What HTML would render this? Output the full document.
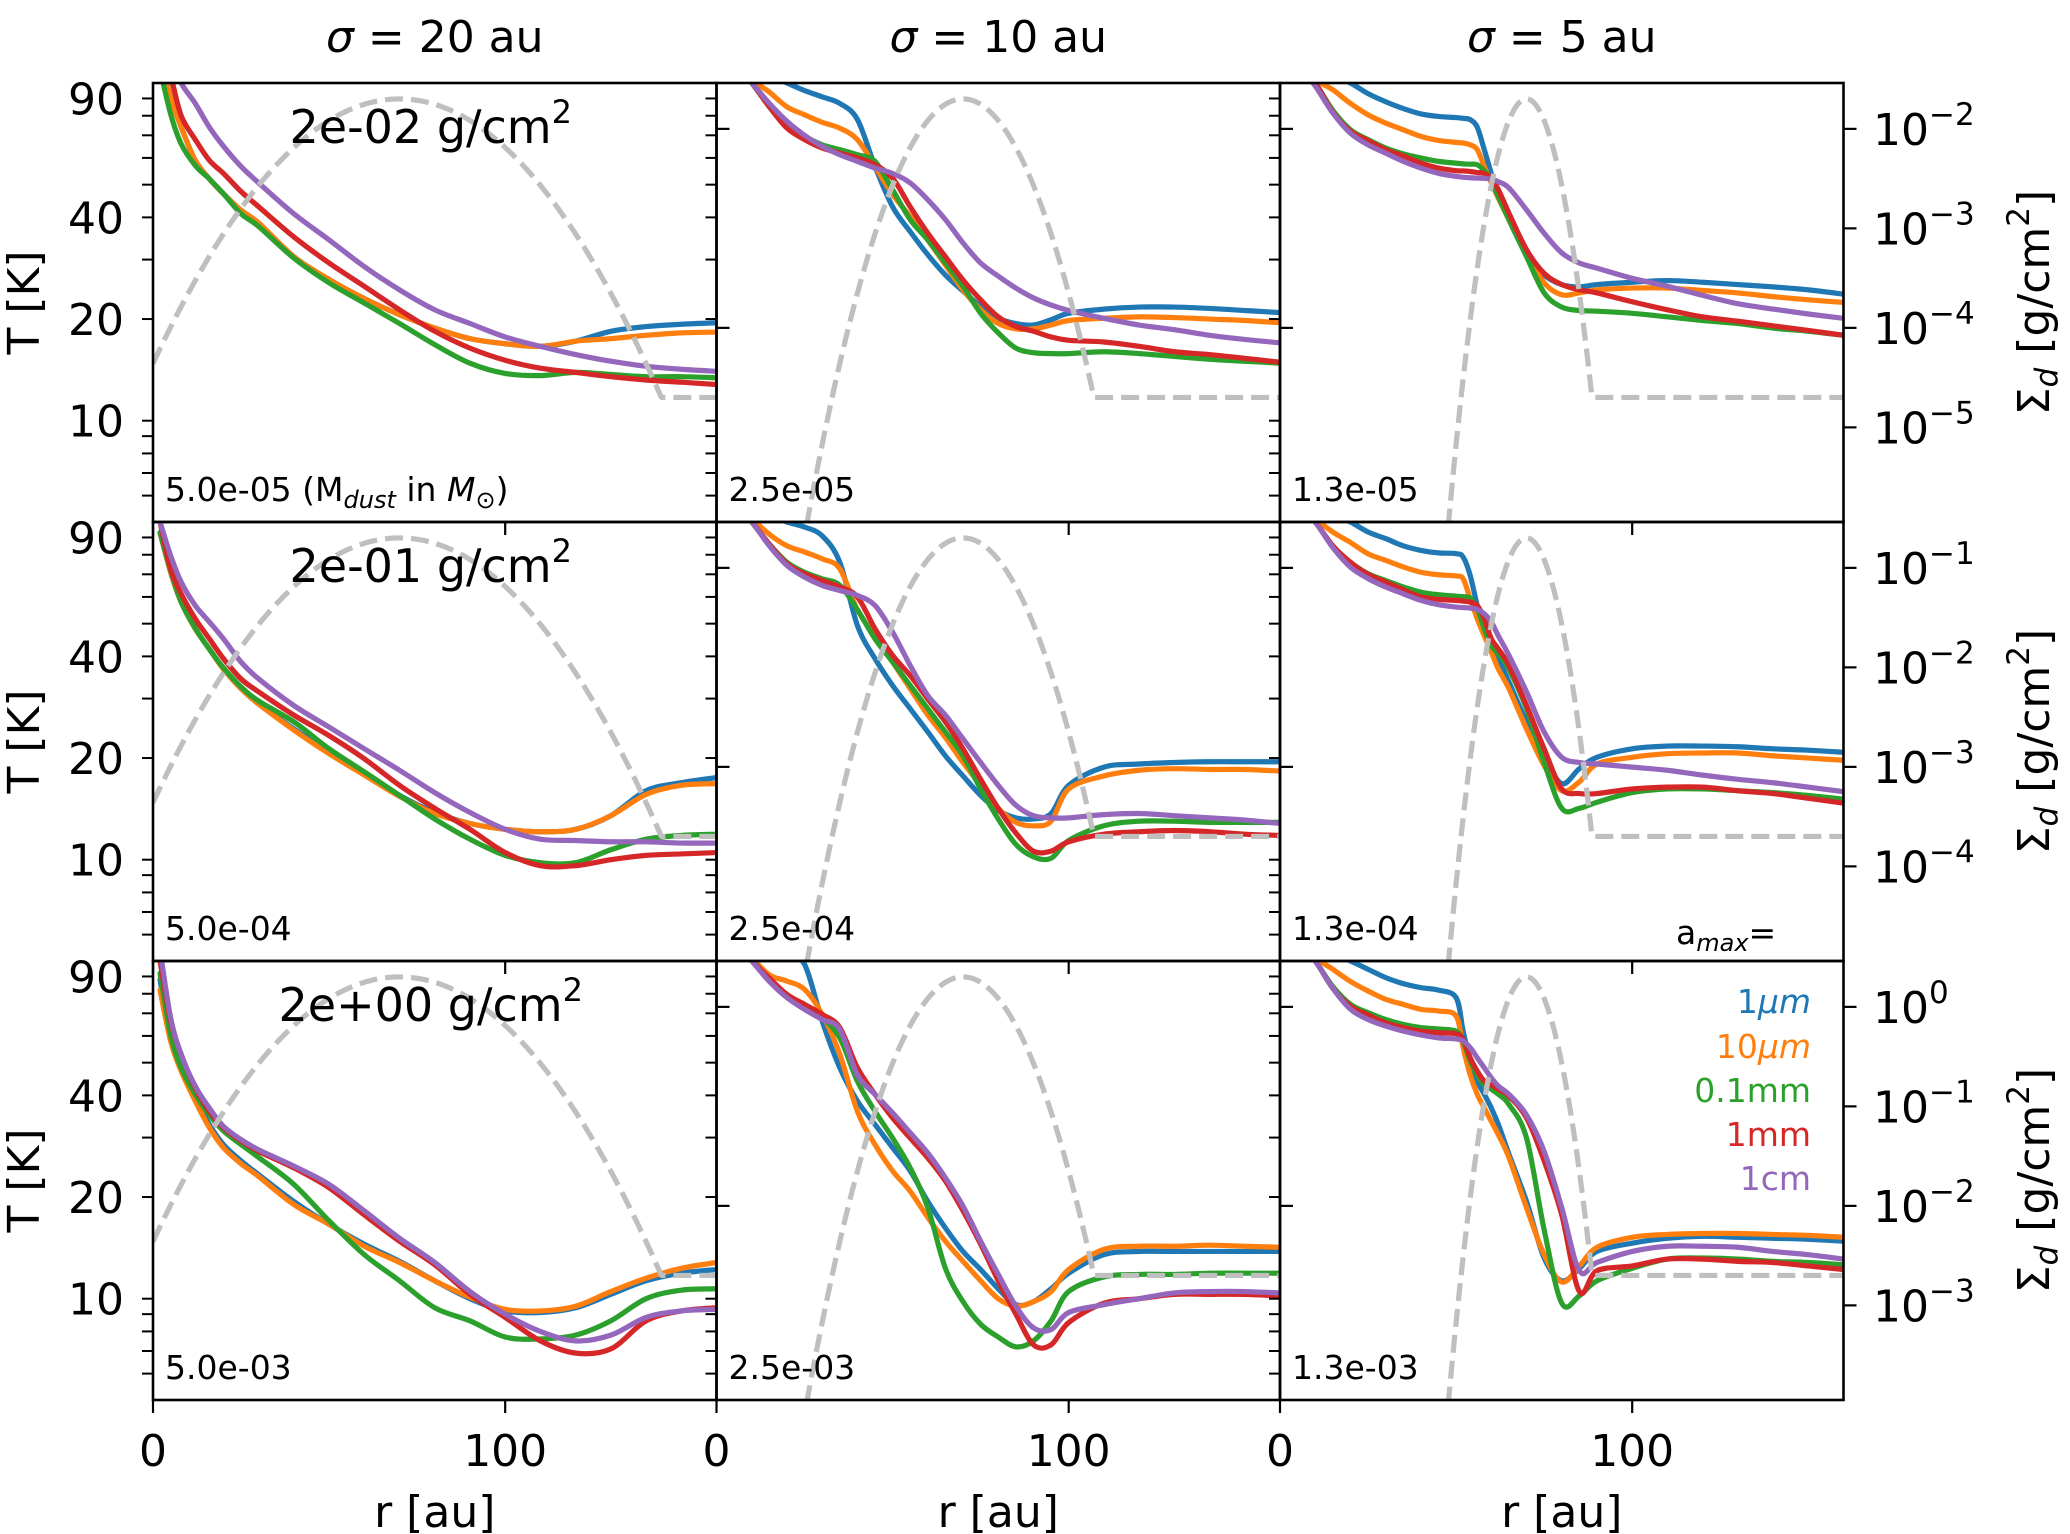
<!DOCTYPE html>
<html><head><meta charset="utf-8"><title>T profiles</title>
<style>
html,body{margin:0;padding:0;background:#fff;}
svg{display:block;font-family:"DejaVu Sans","Liberation Sans",sans-serif;}
</style></head>
<body>
<svg id="fig" width="2070" height="1534" viewBox="0 0 2070 1534" xmlns="http://www.w3.org/2000/svg"></svg>
<script>
// ---- data ----
const colSigmaLabels = ["20","10","5"];
const rowPeakLabels = ["2e-02","2e-01","2e+00"];
const massLabels = [["5.0e-05","2.5e-05","1.3e-05"],["5.0e-04","2.5e-04","1.3e-04"],["5.0e-03","2.5e-03","1.3e-03"]];
const gaussPeaks = [0.02,0.2,2];
const gaussSigmas = [20,10,5];
const gaussCenter = 70;
const gaussFloorFrac = 1e-3;
const rGridCol1 = [2,5,8,12,16,20,25,30,40,50,60,70,80,90,100,110,120,130,140,150,160];
const rGridCol2 = [2,6,10,15,20,25,30,35,40,45,50,55,60,65,70,75,80,85,90,95,100,110,120,130,140,150,160];
const rGridCol3 = [2,6,10,15,20,25,30,35,40,45,50,52,54,56,58,60,62,65,70,75,80,85,90,100,110,120,130,140,150,160];
const seriesNames = ["1μm","10μm","0.1mm","1mm","1cm"];
const seriesColors = ["#1f77b4","#ff7f0e","#2ca02c","#d62728","#9467bd"];
const xTicks = [0,100];
const tMajorTicks = [90,40,20,10];
const tMinorTicks = [80,70,60,50,30,9,8,7,6];
const rightDecades = [[-2,-3,-4,-5],[-1,-2,-3,-4],[0,-1,-2,-3]];
const rightSparse = [[-2,-4],[-1,-3],[0,-2]];
// T values per panel (row-major: r1c1,r1c2,r1c3,r2c1,...)
const blueT = [
[120,91,74,59,52,47,42,38.5,30.6,26.2,23,20.6,18.8,17.5,16.9,16.6,17.2,18.4,19.0,19.3,19.5],
[150,130,115,105,100,95,91,87,78,56.6,43,36.3,31,27,24.2,21.8,20.1,19.4,19.2,19.9,20.8,21.4,21.7,21.7,21.5,21.2,20.9],
[150,130,115,105,100,93,88,84,81,79.6,79,78.6,77.9,74,63.5,54,46.7,39.4,31,27,25.3,24.9,25.3,25.7,26,25.7,25.3,24.9,24.4,23.7],
[93,71,57.9,48.3,42.1,36.7,32.1,28.9,24.4,20.8,18,15.5,13.8,12.8,12.3,12.1,12.3,13.5,16.0,16.9,17.5],
[150,130,115,105,100,96.6,91,76,49.4,39.4,32.8,28,23.9,20.3,17.7,15.5,14,13.3,13.2,13.7,16.6,18.8,19.2,19.4,19.5,19.5,19.5],
[150,130,115,105,100,93.4,89.3,85,82.4,81,80.6,78.7,69.5,56.6,48.3,44,39.4,33.6,25.6,20.3,16.8,18.6,20.1,21.3,21.7,21.7,21.6,21.3,21.1,20.8],
[88,59,48.3,39.4,32.8,28.6,25.6,23.3,19.4,16.6,14.5,12.9,11.3,10,9.2,9.1,9.4,10.3,11.3,11.9,12.2],
[160,140,125,112,104,97.7,66.4,48.3,38.5,32.8,28,23.9,19.4,16.2,13.8,12.2,10.7,9.6,9.8,10.7,11.9,13.5,13.8,13.8,13.8,13.8,13.8],
[150,130,115,105,100,94.5,89.3,85.7,83.4,82,77.9,62,50.6,44.1,40.3,36.7,32.8,26.8,19.4,13.2,11.3,12.3,13.8,14.6,15.1,15.3,15.2,15.1,15,14.8]
];
const orangeT = [
[120,91,74,59,52,47,42,38.5,30.6,26.2,23,20.6,18.8,17.5,16.9,16.6,17.2,17.5,17.9,18.2,18.3],
[140,120,103,94,85,80.5,76.5,73.5,68,56.6,46.7,40.3,34.3,28.9,24.4,21.3,19.4,18.7,18.7,19.2,19.8,20.1,20.3,20.2,20,19.8,19.5],
[140,120,103,95.5,87,80.5,76.1,72.7,69.5,67.6,66.7,66.4,65.6,63.5,56.6,50.6,45.6,39.4,31.4,25.6,23.6,23.9,24.4,24.7,24.7,24.3,23.9,23.3,22.8,22.4],
[93,71,57.9,48.3,42.1,36.7,32.1,28.9,24.2,20.6,17.8,15.4,13.7,12.8,12.3,12.1,12.3,13.5,15.6,16.6,16.8],
[140,120,103,92,85,81.5,77.8,72.7,55,46,38.5,32.1,26.8,23,19.4,16.6,14.2,12.9,12.6,13,16.2,17.7,18.4,18.6,18.5,18.5,18.3],
[140,120,103,93.4,87,80.5,77,73.6,71,69.8,69.2,67.9,59.2,51.7,46,41.2,36.7,32.1,24.4,19,16,17,19.2,20.1,20.6,20.7,20.7,20.3,20,19.7],
[82,57.9,47.2,38.5,32.1,28,25.1,23,19,16.6,14.3,12.8,11.3,10.1,9.3,9.2,9.5,10.5,11.5,12.3,12.8],
[140,120,103,91,87.2,82.4,69.5,53,35.9,28.6,23.9,20.8,17.4,14.8,12.9,11.3,10,9.5,9.8,10.5,12.2,14,14.3,14.3,14.4,14.3,14.2],
[140,120,103,94.5,87,81.5,77,74.4,71.9,71.1,68.7,55.4,46,40.3,36.7,33.5,30.6,26.2,18.6,13.5,11.2,12.5,14.2,15.2,15.5,15.6,15.6,15.5,15.4,15.2]
];
const greenT = [
[110,81,66,57,52,47,41,37.6,30.3,25.6,22.3,19.4,16.8,14.8,13.8,13.6,13.9,13.7,13.5,13.5,13.4],
[125,110,100,85,74.4,69.5,65.6,63.5,61.3,58.6,48.3,39.4,34.3,29.3,25,20.8,18.2,16.4,15.9,15.8,15.8,16,15.8,15.5,15.2,15,14.8],
[125,110,100,83,72.7,68,64.2,61.7,60,58.6,57.9,57.6,57.5,57.3,55,51.7,46,39.4,30.6,23.9,21.7,21.2,21.1,20.8,20.3,19.8,19.4,18.8,18.4,17.9],
[93,72,58,48.5,42,37,32.5,29.5,25.6,21.3,18.2,15.5,13.2,11.5,10.3,9.8,9.8,10.7,11.5,11.8,11.9],
[125,110,100,86,76,71,67.9,65,55,45.1,38.5,32.8,28,23.9,20.3,16.2,13.2,11.1,10.2,10.1,11.4,12.6,13,13,12.9,12.9,12.9],
[125,110,100,85,76,70.3,67.1,64.2,62,60.9,60.3,60.1,59.5,55.4,48.3,43,40.7,36.7,28,19.4,14.2,14.2,14.8,15.8,16.2,16.2,16,15.8,15.5,15.1],
[92,60.6,48.3,40.3,35,31.4,28.6,26.2,21.8,17,13.5,11.3,9.4,8.6,7.7,7.6,7.8,8.6,10,10.6,10.7],
[125,110,101,88,79.6,73.6,67.9,59.2,44.1,35.9,29.9,24.4,18.6,12.3,9.8,8.4,7.7,7.2,7.5,8.6,10.5,11.6,11.8,11.8,11.9,11.9,11.9],
[125,110,100,84,74.4,70.3,67.1,64.9,63.5,62.9,62,57.9,50.6,46,43,41.7,40.3,37.6,29.9,16,9.7,10.2,11.3,12.3,13.1,13.2,13.1,12.9,12.8,12.6]
];
const redT = [
[130,105,80,68,59,54,47.7,43,35,29.3,25,21.3,18.4,16.4,15.1,14.3,13.9,13.5,13.2,13.0,12.8],
[125,110,100,85,73.5,68,64.2,62,60,57.3,52.3,43,35.9,30.6,26.1,22.8,20.3,19,18.4,17.7,17.3,17.1,16.6,16,15.7,15.3,14.9],
[125,110,100,82,72,67.5,63.5,60.8,57.9,56,55,54.9,54.7,54.3,54,52.3,48.3,41.2,32.1,27.3,25.3,24.4,23.9,22.5,21.3,20.3,19.7,19.1,18.5,17.9],
[100,72.7,61.3,51.7,45.1,39.4,34.3,31.4,26.8,23.3,19.9,16.6,14.2,12.3,10.5,9.6,9.6,10,10.3,10.4,10.5],
[125,110,100,86,75.2,70.3,67.1,64.2,60,48.3,40.3,35.1,29.9,25.6,21.3,17.3,14.2,12,10.6,10.6,11.3,11.9,12.1,12.2,12.1,11.9,11.8],
[125,110,100,85,76,70,66.4,63,60,59,58.6,58.3,57.9,56.6,51.7,45.1,42.1,37.6,28.6,21.3,16.2,15.7,15.7,16.2,16.4,16.4,16,15.7,15.2,14.7],
[100,66.4,52.9,42.1,35.9,32.1,29.3,27.3,24.4,21.3,17.7,14.8,12.6,10.3,8.8,7.5,6.9,7.1,8.6,9.2,9.4],
[125,110,100,89,79.6,74.4,69.5,63.5,48.3,40.3,34.3,29.9,26.1,22.3,18.2,14.5,11.3,9,7.3,7.3,8.5,9.7,10,10.3,10.3,10.3,10.2],
[125,110,100,83,73.5,69.2,65.6,63.5,62,61.3,60.9,58.6,51.7,47.2,44.1,42.9,41.7,39.8,34.3,25.6,17.7,10.5,12.1,12.5,13.1,13.1,12.9,12.8,12.5,12.2]
];
const purpleT = [
[140,120,100,87,74,65,56.6,50.6,41,34.3,28.6,24.4,21.3,19.4,17.7,16.6,15.7,15,14.5,14.2,14.0],
[125,110,100,87,77,70,64.9,61.3,58.6,56,54,50.6,45.1,39.4,33.6,29.3,26.8,24.7,23.1,22,21.2,20.1,19.2,18.6,17.9,17.4,17.0],
[125,110,98,81.5,71,65.6,62,58.6,56,54,52.9,52.6,52.4,52.3,52.2,51.9,51,48.9,42.1,35.9,31.4,29.3,28.3,26.4,25,23.5,22.2,21.4,20.7,20.1],
[100,79.6,66.4,56.6,50.6,45.1,38.5,34.3,28.6,24.7,21.3,18.4,15.8,13.8,12.3,11.5,11.4,11.3,11.3,11.2,11.2],
[125,110,100,85,74.4,68.7,64.9,62.7,60.6,56.6,47.2,37.6,30.6,26.8,22.8,19.4,16.6,14.5,13.5,13.3,13.3,13.6,13.7,13.5,13.3,13.1,12.8],
[125,110,100,84,73.5,68,64.2,61.3,58.6,56.9,56,55.8,55.6,55.1,53.5,50.6,46,40.3,31.4,23.9,20.1,19.4,19.2,18.8,18.4,17.8,17.3,16.9,16.4,15.9],
[108,68,52.9,42.6,36.7,32.4,29.6,27.6,24.7,21.8,18.2,15.1,12.8,10.5,9,8,7.5,7.8,8.8,9.2,9.3],
[125,110,100,87,77.9,71.9,67.1,62.7,46,40.3,35.5,31,27,22.8,18.8,14.8,11.8,9.5,8.2,8.1,9.1,9.6,10,10.4,10.5,10.5,10.4],
[125,110,100,83,72,67.1,64.2,62,60.4,59.2,58.8,57.9,55.4,51.7,48.3,45.1,42.6,40.3,35,27.3,18.6,12.1,12.8,13.8,14.3,14.3,14.2,13.8,13.5,13.1]
];

// ---- layout ----
const NS = "http://www.w3.org/2000/svg";
const svg = document.getElementById("fig");
const L = [153, 716.5, 1280], W = 563.5;
const TOPS = [83, 522, 961], H = 439;
const R_MAX = 160;
const T_LOG_TOP = 2, T_PX_DEC = H / 1.3;
const S_PX_DEC = 99.5;
const LW = 5.2;
const rGrids = [rGridCol1, rGridCol2, rGridCol3];
const allSeries = [blueT, orangeT, greenT, redT, purpleT];

function xS(c, r) { return L[c] + r / R_MAX * W; }
function yT(row, T) { return TOPS[row] + (T_LOG_TOP - Math.log10(T)) * T_PX_DEC; }
function sTop(row) { return Math.log10(gaussPeaks[row]) + 0.16; }
function yS(row, S) { return TOPS[row] + (sTop(row) - Math.log10(S)) * S_PX_DEC; }

function el(tag, attrs, parent) {
  const e = document.createElementNS(NS, tag);
  for (const k in attrs) e.setAttribute(k, attrs[k]);
  (parent || svg).appendChild(e);
  return e;
}
function smoothPath(pts) {
  let d = "M" + pts[0][0].toFixed(2) + "," + pts[0][1].toFixed(2);
  for (let i = 0; i < pts.length - 1; i++) {
    const p0 = pts[Math.max(0, i - 1)], p1 = pts[i], p2 = pts[i + 1], p3 = pts[Math.min(pts.length - 1, i + 2)];
    const c1x = p1[0] + (p2[0] - p0[0]) / 6, c1y = p1[1] + (p2[1] - p0[1]) / 6;
    const c2x = p2[0] - (p3[0] - p1[0]) / 6, c2y = p2[1] - (p3[1] - p1[1]) / 6;
    d += " C" + c1x.toFixed(2) + "," + c1y.toFixed(2) + " " + c2x.toFixed(2) + "," + c2y.toFixed(2) + " " + p2[0].toFixed(2) + "," + p2[1].toFixed(2);
  }
  return d;
}

const defs = el("defs", {});
for (let row = 0; row < 3; row++) {
  for (let c = 0; c < 3; c++) {
    const cp = el("clipPath", { id: "clip" + row + c }, defs);
    el("rect", { x: L[c], y: TOPS[row], width: W, height: H }, cp);
  }
}

// column titles
for (let c = 0; c < 3; c++) {
  const t = el("text", { x: L[c] + W / 2, y: 52, "text-anchor": "middle", "font-size": 44, fill: "#000" });
  
  
  t.innerHTML = '<tspan font-style="italic">σ</tspan> = ' + colSigmaLabels[c] + ' au';
}

for (let row = 0; row < 3; row++) {
  for (let c = 0; c < 3; c++) {
    const g = el("g", {});
    
    
    const plot = el("g", { "clip-path": "url(#clip" + row + c + ")" }, g);
    const rg = rGrids[c];
    allSeries.forEach((ser, si) => {
      const vals = ser[row * 3 + c];
      const pts = rg.map((r, i) => [xS(c, r), yT(row, vals[i])]);
      const p = el("path", { d: smoothPath(pts), fill: "none", stroke: seriesColors[si], "stroke-width": LW, "stroke-linejoin": "round", "stroke-linecap": "round" }, plot);
      
      
    });
    const gp = [];
    for (let r = 0; r <= R_MAX; r += 0.25) {
      let S = gaussPeaks[row] * Math.exp(-Math.pow(r - gaussCenter, 2) / (2 * gaussSigmas[c] * gaussSigmas[c]));
      if (r > gaussCenter) S = Math.max(S, gaussPeaks[row] * gaussFloorFrac);
      S = Math.max(S, 1e-12);
      const y = Math.min(yS(row, S), TOPS[row] + H + 20);
      gp.push(xS(c, r).toFixed(2) + "," + y.toFixed(2));
    }
    const dl = el("polyline", { points: gp.join(" "), fill: "none", stroke: "#bfbfbf", "stroke-width": LW, "stroke-dasharray": "18 8" }, plot);
    
    

    const fr = el("rect", { x: L[c], y: TOPS[row], width: W, height: H, fill: "none", stroke: "#000", "stroke-width": 2.6 }, g);
    
    

    tMajorTicks.concat(tMinorTicks).forEach(T => {
      const y = yT(row, T);
      const tk = el("line", { x1: L[c], x2: L[c] - 11, y1: y, y2: y, stroke: "#000", "stroke-width": 2 }, g);
      
      
    });
    const rdec = (c === 2) ? rightDecades[row] : rightSparse[row];
    rdec.forEach(dv => {
      const y = TOPS[row] + (sTop(row) - dv) * S_PX_DEC;
      const tk = el("line", { x1: L[c] + W, x2: L[c] + W + 13, y1: y, y2: y, stroke: "#000", "stroke-width": 2.2 }, g);
      
      
    });
    xTicks.forEach(r => {
      const x = xS(c, r);
      const tk = el("line", { x1: x, x2: x, y1: TOPS[row] + H, y2: TOPS[row] + H + 13, stroke: "#000", "stroke-width": 2.2 }, g);
      
      
    });

    const ml = el("text", { x: L[c] + 12, y: TOPS[row] + 418, "font-size": 33, fill: "#000" }, g);
    
    
    if (row === 0 && c === 0) {
      ml.innerHTML = massLabels[row][c] + '  (M<tspan font-size="24" font-style="italic" dy="7">dust</tspan><tspan dy="-7"> in </tspan><tspan font-style="italic">M</tspan><tspan font-size="24" dy="7">⊙</tspan><tspan dy="-7">)</tspan>';
    } else {
      ml.textContent = massLabels[row][c];
    }

    if (c === 2) {
      rightDecades[row].forEach(dv => {
        const y = TOPS[row] + (sTop(row) - dv) * S_PX_DEC;
        const t = el("text", { x: 1873, y: y + 16, "font-size": 44, fill: "#000" }, g);
        
        
        t.innerHTML = '10<tspan font-size="31" dy="-20">' + (dv === 0 ? '0' : '−' + (-dv)) + '</tspan>';
      });
    }
    if (c === 0) {
      tMajorTicks.forEach(T => {
        const t = el("text", { x: 124, y: yT(row, T) + 16, "text-anchor": "end", "font-size": 44, fill: "#000" }, g);
        
        
        t.textContent = T;
      });
      const rt = el("text", { x: L[0] + W / 2 - 4, y: TOPS[row] + 60, "text-anchor": "middle", "font-size": 46, fill: "#000" }, g);
      
      
      rt.innerHTML = rowPeakLabels[row] + ' g/cm<tspan font-size="32" dy="-20">2</tspan>';
    }
  }
  const cy = TOPS[row] + H / 2;
  const yl = el("text", { x: 0, y: 0, transform: "translate(39," + cy + ") rotate(-90)", "text-anchor": "middle", "font-size": 44, fill: "#000" });
  
  
  yl.textContent = "T [K]";
  const sl = el("text", { x: 0, y: 0, transform: "translate(2049," + cy + ") rotate(-90)", "text-anchor": "middle", "font-size": 44, fill: "#000" });
  
  
  sl.innerHTML = 'Σ<tspan font-size="31" font-style="italic" dy="8">d</tspan><tspan dy="-8"> [g/cm</tspan><tspan font-size="31" dy="-20">2</tspan><tspan dy="20">]</tspan>';
}

for (let c = 0; c < 3; c++) {
  xTicks.forEach(r => {
    const t = el("text", { x: xS(c, r), y: 1466, "text-anchor": "middle", "font-size": 44, fill: "#000" });
    
    
    t.textContent = r;
  });
  const xt = el("text", { x: L[c] + W / 2, y: 1527, "text-anchor": "middle", "font-size": 44, fill: "#000" });
  
  
  xt.textContent = "r [au]";
}

const am = el("text", { x: 1676, y: 944, "font-size": 33, fill: "#000" });


am.innerHTML = 'a<tspan font-size="24" font-style="italic" dy="7">max</tspan><tspan dy="-7">=</tspan>';
const legY = [1013, 1058, 1102, 1146, 1190];
seriesNames.forEach((n, i) => {
  const t = el("text", { x: 1811, y: legY[i], "text-anchor": "end", "font-size": 33, fill: seriesColors[i] });
  
  
  if (n.indexOf("μm") >= 0) t.innerHTML = n.replace("μm", "") + '<tspan font-style="italic">μm</tspan>';
  else t.textContent = n;
});
</script>
</body></html>
